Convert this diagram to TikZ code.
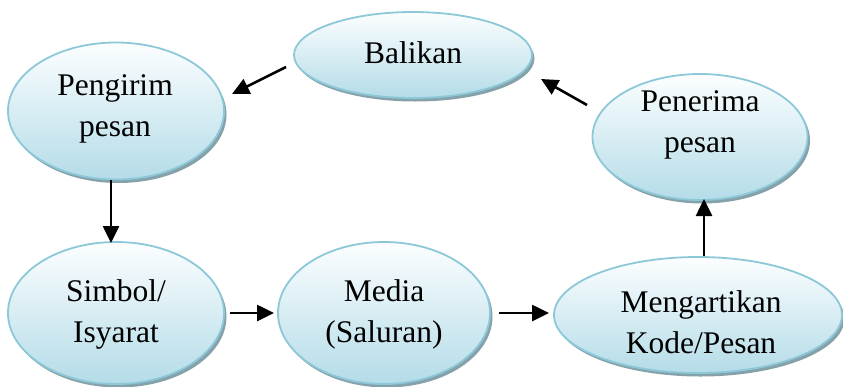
\documentclass[tikz,border=0pt]{standalone}
\usepackage{fontspec}
\setmainfont{Liberation Serif}
\usetikzlibrary{shadows,arrows.meta,shapes.geometric}
\definecolor{ellborder}{RGB}{140,200,216}
\definecolor{elltop}{RGB}{252,254,255}
\definecolor{ellbot}{RGB}{180,220,232}
\definecolor{ellshadow}{RGB}{120,152,162}
\tikzset{
  bubble/.style={ellipse, draw=ellborder, line width=1.8pt, inner sep=0pt,
    top color=elltop, bottom color=ellbot,
    drop shadow={shadow xshift=2.5pt, shadow yshift=-3.5pt, fill=ellshadow, opacity=0.9}},
  label text/.style={align=center, font=\fontsize{31.5}{41}\selectfont, inner sep=0pt},
  flow/.style={line width=2.6pt, -{Triangle[length=17pt,width=16pt]}}
}
\begin{document}
\begin{tikzpicture}[x=1pt,y=-1pt]
\useasboundingbox (0,0) rectangle (843,386);
% ellipses
\node[bubble, minimum width=216pt, minimum height=137pt] (pengirim) at (116,111) {};
\node[bubble, minimum width=238pt, minimum height=86pt] (balikan) at (413,55) {};
\node[bubble, minimum width=215pt, minimum height=126pt] (penerima) at (700,137) {};
\node[bubble, minimum width=216pt, minimum height=142pt] (simbol) at (116,313) {};
\node[bubble, minimum width=212pt, minimum height=142pt] (media) at (384,313) {};
\node[bubble, minimum width=288pt, minimum height=116pt] (mengartikan) at (698,315) {};
% texts
\node[label text] (tpengirim) at (115,109) {Pengirim\\pesan};
\node[label text, text height=22pt, text depth=7pt] (tbalikan) at (413,55.5) {Balikan};
\node[label text] (tpenerima) at (700,125) {Penerima\\pesan};
\node[label text] (tsimbol) at (116,314) {Simbol/\\Isyarat};
\node[label text] (tmedia) at (384,314) {Media\\(Saluran)};
\node[label text] (tmengartikan) at (701,322) {Mengartikan\\Kode/Pesan};
% arrow end points
\coordinate (b1) at (286,67);   \coordinate (p1) at (232,94);
\coordinate (r1) at (587,105);  \coordinate (b2) at (541,79);
\coordinate (p2) at (111,180);  \coordinate (s1) at (111,243);
\coordinate (s2) at (230,313);  \coordinate (m1) at (274,313);
\coordinate (m2) at (499,313);  \coordinate (k1) at (549,313);
\coordinate (k2) at (704,256);  \coordinate (r2) at (704,199);
% connectors
\draw[flow] (b1) -- (p1);
\draw[flow] (r1) -- (b2);
\draw[flow] (p2) -- (s1);
\draw[flow] (s2) -- (m1);
\draw[flow] (m2) -- (k1);
\draw[flow] (k2) -- (r2);
\end{tikzpicture}
\end{document}
